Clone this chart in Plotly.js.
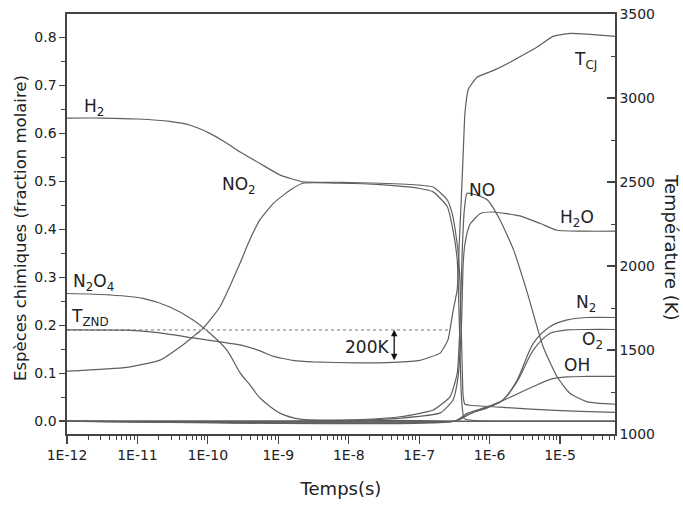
<!DOCTYPE html>
<html>
<head>
<meta charset="utf-8">
<script src="https://cdn.plot.ly/plotly-3.0.1.min.js"></script>
<style>html,body{margin:0;padding:0;background:#fff;}#chart{width:683px;height:505px;}</style>
</head>
<body>
<div id="chart"></div>
<script>
// ---- Data (time in seconds) ----
const h2T  = [1e-12,3.16e-12,1e-11,2.88e-11,5.62e-11,1.07e-10,1.74e-10,2.88e-10,5.5e-10,1.07e-9,2.24e-9,7.59e-9,2.82e-8,1.02e-7,1.58e-7,2.51e-7,3.02e-7,3.55e-7,3.8e-7,4.07e-7,4.22e-7,4.47e-7,5.25e-7,1.41e-6,3.8e-6,1.95e-5,6.03e-5];
const h2Y  = [0.632,0.632,0.630,0.625,0.617,0.600,0.582,0.561,0.537,0.513,0.499,0.498,0.496,0.492,0.488,0.461,0.426,0.357,0.288,0.120,0.050,0.035,0.033,0.029,0.025,0.020,0.018];

const no2T = [1e-12,7.08e-12,2.09e-11,4.07e-11,6.17e-11,8.51e-11,1.48e-10,2.88e-10,3.72e-10,5.5e-10,8.51e-10,1.48e-9,2.24e-9,7.59e-9,2.82e-8,1.02e-7,1.58e-7,2.51e-7,3.02e-7,3.47e-7,3.72e-7,3.98e-7,4.37e-7,6.31e-7,6.03e-5];
const no2Y = [0.104,0.112,0.127,0.155,0.176,0.193,0.238,0.330,0.370,0.420,0.454,0.482,0.496,0.496,0.493,0.485,0.478,0.447,0.398,0.336,0.200,0.050,0.005,0.001,0.000];

const n2o4T = [1e-12,4.07e-12,1.2e-11,2.88e-11,6.17e-11,1.07e-10,1.86e-10,2.88e-10,3.98e-10,5.5e-10,1.07e-9,2.04e-9,1e-8,1e-7,3.98e-7,6.03e-5];
const n2o4Y = [0.266,0.263,0.256,0.238,0.211,0.183,0.148,0.100,0.075,0.048,0.016,0.004,0.002,0.001,0.000,0.000];

const noT = [1e-12,1e-9,1e-8,5.37e-8,1.58e-7,2.75e-7,3.47e-7,3.8e-7,4.07e-7,4.37e-7,4.79e-7,6.31e-7,9.33e-7,1.41e-6,2.19e-6,3.39e-6,5.75e-6,9.12e-6,1.38e-5,2.45e-5,6.03e-5];
const noY = [0.000,0.000,0.002,0.009,0.023,0.051,0.100,0.204,0.350,0.440,0.475,0.472,0.461,0.419,0.357,0.270,0.155,0.092,0.058,0.040,0.035];

const h2oT = [1e-12,1e-8,5.37e-8,2e-7,3.02e-7,3.55e-7,3.98e-7,4.22e-7,4.47e-7,5.25e-7,7.41e-7,1.12e-6,2.69e-6,5.25e-6,9.12e-6,2.45e-5,6.03e-5];
const h2oY = [0.000,0.001,0.006,0.017,0.044,0.090,0.200,0.330,0.370,0.410,0.433,0.436,0.428,0.412,0.398,0.396,0.396];

const n2T = [1e-12,3.16e-7,3.8e-7,4.79e-7,6.31e-7,9.33e-7,1.55e-6,2.45e-6,4.17e-6,7.24e-6,1.26e-5,2.4e-5,6.03e-5];
const n2Y = [0.000,0.000,0.004,0.012,0.020,0.028,0.044,0.085,0.162,0.197,0.211,0.216,0.216];

const o2T = [1e-12,3.16e-7,3.8e-7,4.79e-7,6.31e-7,9.33e-7,1.55e-6,2.45e-6,4.17e-6,7.24e-6,1.26e-5,2.4e-5,6.03e-5];
const o2Y = [0.000,0.000,0.004,0.012,0.020,0.028,0.044,0.082,0.148,0.183,0.190,0.191,0.191];

const ohT = [1e-12,3.16e-7,3.8e-7,4.79e-7,6.31e-7,9.33e-7,1.55e-6,4.17e-6,7.24e-6,1.26e-5,2.4e-5,6.03e-5];
const ohY = [0.000,0.000,0.006,0.016,0.022,0.030,0.043,0.072,0.087,0.092,0.093,0.093];

const tempT = [1e-12,7.08e-12,2.09e-11,6.17e-11,1.86e-10,2.88e-10,5.5e-10,8.51e-10,1.62e-9,3.09e-9,1.32e-8,4.27e-8,1.02e-7,2e-7,2.57e-7,3.02e-7,3.47e-7,3.72e-7,3.98e-7,4.22e-7,4.47e-7,5.01e-7,6.61e-7,1.12e-6,1.95e-6,2.69e-6,4.79e-6,7.94e-6,1.38e-5,2.45e-5,6.03e-5];
const tempK = [1620,1618,1602,1572,1542,1530,1495,1462,1438,1429,1423,1426,1438,1483,1562,1730,1861,2150,2420,2675,2914,3053,3123,3163,3213,3245,3305,3367,3385,3380,3367];

const tzndT = [1e-12,2.75e-7];
const tzndK = [1620,1620];

const xTickVals = [1e-12,1e-11,1e-10,1e-9,1e-8,1e-7,1e-6,1e-5];
const xTickText = ['1E-12','1E-11','1E-10','1E-9','1E-8','1E-7','1E-6','1E-5'];

// minor tick positions (2..9 in each decade)
const xMinor = [];
for (let e = -12; e <= -5; e++) for (let m = 2; m <= 9; m++) xMinor.push(m * Math.pow(10, e));

const lineColor = '#5f5f5f';
const FONT = 'DejaVu Sans, sans-serif';

function sp(x, y, smooth, extra) {
  return Object.assign({x: x, y: y, type: 'scatter', mode: 'lines',
    line: {color: lineColor, width: 1.2, shape: 'spline', smoothing: smooth},
    hoverinfo: 'skip', showlegend: false}, extra || {});
}

const traces = [
  sp(tzndT, tzndK, 0, {yaxis: 'y2', line: {color: '#b0b0b0', width: 1.6, dash: 'dot'}}),
  sp(n2o4T, n2o4Y, 0.8),
  sp(no2T, no2Y, 0.5),
  sp(h2T, h2Y, 0.5),
  sp(noT, noY, 0.5),
  sp(h2oT, h2oY, 0.5),
  sp(n2T, n2Y, 0.8),
  sp(o2T, o2Y, 0.8),
  sp(ohT, ohY, 0.8),
  sp(tempT, tempK, 0.4, {yaxis: 'y2'})
];

function lab(text, lx, ly, yref) {
  return {text: text, x: lx, y: ly, xref: 'x', yref: yref || 'y', showarrow: false,
          font: {family: FONT, size: 17, color: '#222'}, xanchor: 'center', yanchor: 'middle'};
}

const plotW = 683 - 67 - 68, plotH = 505 - 14 - 71;

const annotations = [
  lab('H<sub>2</sub>', -11.62, 0.655),
  lab('NO<sub>2</sub>', -9.56, 0.492),
  lab('N<sub>2</sub>O<sub>4</sub>', -11.63, 0.290),
  lab('T<sub>ZND</sub>', -11.67, 0.215),
  lab('200K', -7.74, 0.154),
  lab('NO', -6.105, 0.482),
  lab('H<sub>2</sub>O', -4.76, 0.423),
  lab('T<sub>CJ</sub>', -4.64, 0.753),
  lab('N<sub>2</sub>', -4.63, 0.246),
  lab('O<sub>2</sub>', -4.54, 0.169),
  lab('OH', -4.76, 0.117),
  {x: -7.355, y: 1620, xref: 'x', yref: 'y2', ax: -7.355, ay: 1430, axref: 'x', ayref: 'y2',
   text: '', showarrow: true, arrowside: 'end+start', arrowhead: 2, arrowsize: 1, arrowwidth: 1.3,
   arrowcolor: '#111', standoff: 0, startstandoff: 0},
  {text: 'Espèces chimiques (fraction molaire)', x: (20 - 67) / plotW, y: (434 - 228) / plotH, xref: 'paper', yref: 'paper',
   showarrow: false, textangle: -90, font: {family: FONT, size: 16.5, color: '#222'}, xanchor: 'center', yanchor: 'middle'},
  {text: 'Température (K)', x: (672 - 67) / plotW, y: (434 - 247) / plotH, xref: 'paper', yref: 'paper',
   showarrow: false, textangle: 90, font: {family: FONT, size: 18, color: '#222'}, xanchor: 'center', yanchor: 'middle'}
];

const layout = {
  width: 683, height: 505,
  margin: {l: 67, r: 68, t: 14, b: 71, pad: 0},
  paper_bgcolor: '#fff', plot_bgcolor: '#fff',
  font: {family: FONT, size: 14, color: '#222'},
  showlegend: false,
  xaxis: {
    type: 'log', range: [-12, -4.22],
    tickmode: 'array', tickvals: xTickVals, ticktext: xTickText,
    ticks: 'outside', ticklen: 8, tickwidth: 1.2, tickcolor: '#444',
    minor: {tickmode: 'array', tickvals: xMinor, ticks: 'outside', ticklen: 4, tickcolor: '#444', tickwidth: 1},
    showline: true, linecolor: '#444', linewidth: 1.6, mirror: true,
    showgrid: false, zeroline: false,
    tickfont: {family: FONT, size: 14, color: '#222'},
    title: {text: 'Temps(s)', font: {family: FONT, size: 18, color: '#222'}, standoff: 20}
  },
  yaxis: {
    range: [-0.027, 0.849], tickmode: 'linear', tick0: 0, dtick: 0.1, tickformat: '.1f',
    ticks: 'outside', ticklen: 6, tickwidth: 1.2, tickcolor: '#444',
    minor: {dtick: 0.05, ticks: 'outside', ticklen: 4, tickcolor: '#444', tickwidth: 1},
    showline: true, linecolor: '#444', linewidth: 1.6,
    showgrid: false, zeroline: true, zerolinecolor: '#666', zerolinewidth: 1,
    tickfont: {family: FONT, size: 14, color: '#222'}
  },
  yaxis2: {
    overlaying: 'y', side: 'right', range: [1000, 3500], tickmode: 'linear', tick0: 1000, dtick: 500,
    ticks: 'inside', ticklen: 8, tickwidth: 1.2, tickcolor: '#444',
    minor: {dtick: 250, ticks: 'inside', ticklen: 4, tickcolor: '#444', tickwidth: 1},
    showline: true, linecolor: '#444', linewidth: 1.6,
    showgrid: false, zeroline: false,
    tickfont: {family: FONT, size: 14, color: '#222'}
  },
  annotations: annotations
};

Plotly.newPlot('chart', traces, layout, {staticPlot: true, displayModeBar: false});
</script>
</body>
</html>
